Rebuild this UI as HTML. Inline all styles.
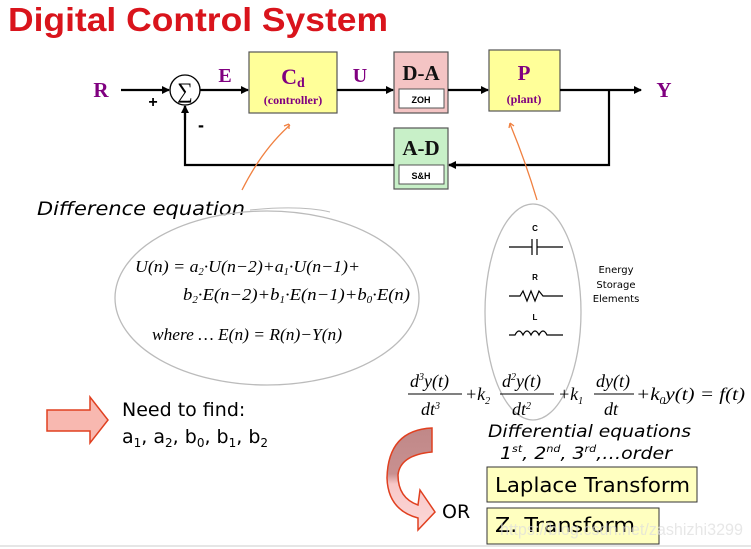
<!DOCTYPE html>
<html><head><meta charset="utf-8"><style>
html,body{margin:0;padding:0;background:#fff;}
svg{display:block;}
.c{font-family:"DejaVu Sans","Liberation Sans",sans-serif;}
.s{font-family:"Liberation Serif",serif;}
</style></head><body>
<svg width="751" height="549" viewBox="0 0 751 549" xmlns="http://www.w3.org/2000/svg">
<defs>
<marker id="ah" markerWidth="8" markerHeight="8" refX="7" refY="4" orient="auto" markerUnits="userSpaceOnUse"><path d="M0,0 L8,4 L0,8 z" fill="#000"/></marker>
</defs>
<text x="8" y="31" font-family="Liberation Sans" font-weight="bold" font-size="33" fill="#d9141c" textLength="380" lengthAdjust="spacingAndGlyphs">Digital Control System</text>

<!-- blocks -->
<rect x="249" y="52" width="88" height="61" fill="#ffff99" stroke="#555" stroke-width="1.2"/>
<text x="293" y="84" text-anchor="middle" class="s" font-weight="bold" font-size="22" fill="#800080">C<tspan font-size="14" dy="3">d</tspan></text>
<text x="293" y="104" text-anchor="middle" class="s" font-weight="bold" font-size="12" fill="#800080">(controller)</text>

<rect x="394" y="52" width="54" height="61" fill="#f4c4c4" stroke="#555" stroke-width="1.2"/>
<text x="421" y="80" text-anchor="middle" class="s" font-weight="bold" font-size="21" fill="#111">D-A</text>
<rect x="399" y="89" width="45" height="19" fill="#fff" stroke="#555"/>
<text x="421" y="103" text-anchor="middle" font-family="Liberation Sans" font-size="9" font-weight="bold">ZOH</text>

<rect x="489" y="50" width="71" height="61" fill="#ffff99" stroke="#555" stroke-width="1.2"/>
<text x="524" y="80" text-anchor="middle" class="s" font-weight="bold" font-size="21" fill="#800080">P</text>
<text x="524" y="103" text-anchor="middle" class="s" font-weight="bold" font-size="12" fill="#800080">(plant)</text>

<rect x="394" y="128" width="54" height="61" fill="#c8f0c8" stroke="#555" stroke-width="1.2"/>
<text x="421" y="155" text-anchor="middle" class="s" font-weight="bold" font-size="21" fill="#111">A-D</text>
<rect x="399" y="165" width="45" height="19" fill="#fff" stroke="#555"/>
<text x="421" y="179" text-anchor="middle" font-family="Liberation Sans" font-size="9" font-weight="bold">S&amp;H</text>

<!-- summer -->
<circle cx="185" cy="90" r="15" fill="#fff" stroke="#000" stroke-width="1.3"/>
<text x="185" y="98" text-anchor="middle" class="s" font-size="22">∑</text>

<!-- lines -->
<g stroke="#000" stroke-width="2.2" fill="none">
<line x1="121" y1="90" x2="169" y2="90" marker-end="url(#ah)"/>
<line x1="200" y1="90" x2="248" y2="90" marker-end="url(#ah)"/>
<line x1="337" y1="90" x2="393" y2="90" marker-end="url(#ah)"/>
<line x1="448" y1="90" x2="488" y2="90" marker-end="url(#ah)"/>
<line x1="560" y1="90" x2="641" y2="90" marker-end="url(#ah)"/>
<polyline points="609,90 609,165 449,165"/>
<line x1="470" y1="165" x2="449" y2="165" marker-end="url(#ah)"/>
<polyline points="394,165 185,165 185,106"/>
<line x1="185" y1="120" x2="185" y2="106" marker-end="url(#ah)"/>
</g>
<text x="101" y="97" class="s" font-weight="bold" font-size="21" fill="#800080" text-anchor="middle">R</text>
<text x="225" y="82" class="s" font-weight="bold" font-size="20" fill="#800080" text-anchor="middle">E</text>
<text x="360" y="82" class="s" font-weight="bold" font-size="20" fill="#800080" text-anchor="middle">U</text>
<text x="664" y="97" class="s" font-weight="bold" font-size="21" fill="#800080" text-anchor="middle">Y</text>
<text x="153" y="107" font-family="Liberation Sans" font-weight="bold" font-size="16" text-anchor="middle">+</text>
<text x="201" y="131" font-family="Liberation Sans" font-weight="bold" font-size="18" text-anchor="middle">-</text>

<!-- orange curves -->
<path d="M242,190 Q262,150 290,125" stroke="#f08040" stroke-width="1.3" fill="none"/>
<path d="M289,124 l-5,2 M289,124 l0,5" stroke="#f08040" stroke-width="1.3"/>
<path d="M537,200 Q525,160 510,124" stroke="#f08040" stroke-width="1.3" fill="none"/>
<path d="M510,123 l-1,5 M510,123 l4,3" stroke="#f08040" stroke-width="1.3"/>

<!-- difference eq -->
<text x="37" y="215" class="c" font-style="italic" font-size="19" textLength="208" lengthAdjust="spacingAndGlyphs">Difference equation</text>
<path d="M250,210 Q300,205 330,212" stroke="#bbb" fill="none"/>
<ellipse cx="267" cy="298" rx="152" ry="87" fill="none" stroke="#bbb" stroke-width="1.3"/>
<g class="s" font-style="italic" font-size="17">
<text x="135" y="272" textLength="225" lengthAdjust="spacingAndGlyphs">U(n) = a<tspan font-size="10" dy="3">2</tspan><tspan dy="-3">·U(n−2)+a</tspan><tspan font-size="10" dy="3">1</tspan><tspan dy="-3">·U(n−1)+</tspan></text>
<text x="183" y="300" textLength="227" lengthAdjust="spacingAndGlyphs">b<tspan font-size="10" dy="3">2</tspan><tspan dy="-3">·E(n−2)+b</tspan><tspan font-size="10" dy="3">1</tspan><tspan dy="-3">·E(n−1)+b</tspan><tspan font-size="10" dy="3">0</tspan><tspan dy="-3">·E(n)</tspan></text>
<text x="152" y="340" textLength="190" lengthAdjust="spacingAndGlyphs">where … E(n) = R(n)−Y(n)</text>
</g>

<!-- energy storage -->
<ellipse cx="533" cy="312" rx="48" ry="108" fill="none" stroke="#bbb" stroke-width="1.3"/>
<g stroke="#000" stroke-width="1.2" fill="none">
<line x1="509" y1="247" x2="532" y2="247"/><line x1="537" y1="247" x2="563" y2="247"/>
<line x1="532" y1="239" x2="532" y2="255"/><line x1="537" y1="239" x2="537" y2="255"/>
<polyline points="509,296 520,296 523,291 527,301 531,291 535,301 539,291 543,296 563,296"/>
<path d="M509,335 L515,335 Q519,327 523,335 Q527,327 531,335 Q535,327 539,335 Q543,327 547,335 L563,335"/>
</g>
<g font-family="Liberation Sans" font-size="8" font-weight="bold" text-anchor="middle">
<text x="535" y="231">C</text><text x="535" y="280">R</text><text x="535" y="320">L</text></g>
<g class="c" font-size="10" text-anchor="middle">
<text x="616" y="273">Energy</text><text x="616" y="288">Storage</text><text x="616" y="302">Elements</text></g>

<!-- differential eq -->
<g class="s" font-style="italic" font-size="18">
<text x="410" y="387">d<tspan font-size="10" dy="-7">3</tspan><tspan dy="7">y(t)</tspan></text>
<line x1="408" y1="394" x2="462" y2="394" stroke="#000"/>
<text x="421" y="415">dt<tspan font-size="10" dy="-6">3</tspan></text>
<text x="465" y="400">+k<tspan font-size="10" dy="4">2</tspan></text>
<text x="502" y="387">d<tspan font-size="10" dy="-7">2</tspan><tspan dy="7">y(t)</tspan></text>
<line x1="500" y1="394" x2="554" y2="394" stroke="#000"/>
<text x="512" y="415">dt<tspan font-size="10" dy="-6">2</tspan></text>
<text x="558" y="400">+k<tspan font-size="10" dy="4">1</tspan></text>
<text x="596" y="387">dy(t)</text>
<line x1="594" y1="394" x2="634" y2="394" stroke="#000"/>
<text x="604" y="415">dt</text>
<text x="636" y="400" textLength="109" lengthAdjust="spacingAndGlyphs">+k<tspan font-size="10" dy="4">0</tspan><tspan dy="-4">y(t) = f(t)</tspan></text>
</g>
<text x="488" y="437" class="c" font-style="italic" font-size="17" textLength="203" lengthAdjust="spacingAndGlyphs">Differential equations</text>
<text x="500" y="459" class="c" font-style="italic" font-size="17" textLength="172" lengthAdjust="spacingAndGlyphs">1<tspan font-size="10" dy="-7">st</tspan><tspan dy="7">, 2</tspan><tspan font-size="10" dy="-7">nd</tspan><tspan dy="7">, 3</tspan><tspan font-size="10" dy="-7">rd</tspan><tspan dy="7">,…order</tspan></text>

<rect x="487" y="467" width="210" height="35" fill="#ffffc0" stroke="#333"/>
<text x="495" y="492" class="c" font-size="20" textLength="195" lengthAdjust="spacingAndGlyphs">Laplace Transform</text>
<rect x="487" y="508" width="172" height="36" fill="#ffffc0" stroke="#333"/>
<text x="495" y="532" class="c" font-size="20" textLength="140" lengthAdjust="spacingAndGlyphs">Z. Transform</text>
<text x="442" y="518" class="c" font-size="19">OR</text>

<!-- curved arrow -->
<defs><linearGradient id="g" x1="0" y1="0" x2="0" y2="1"><stop offset="0" stop-color="#c08888"/><stop offset="0.45" stop-color="#c89090"/><stop offset="0.55" stop-color="#f8c8c8"/><stop offset="1" stop-color="#fcd8d8"/></linearGradient></defs>
<path d="M432,428 L432,452 Q400,455 398,475 Q398,498 418,505 L420,490 L435,512 L418,530 L418,518 Q388,510 387,478 Q388,430 432,428 z" fill="url(#g)" stroke="#e04020" stroke-width="1.5"/>

<!-- straight arrow -->
<path d="M47,410 L90,410 L90,397 L108,420 L90,443 L90,431 L47,431 z" fill="#f8b8b0" stroke="#e04020" stroke-width="1.5"/>
<text x="122" y="416" class="c" font-size="19">Need to find:</text>
<text x="122" y="443" class="c" font-size="19">a<tspan font-size="12" dy="4">1</tspan><tspan dy="-4">, a</tspan><tspan font-size="12" dy="4">2</tspan><tspan dy="-4">, b</tspan><tspan font-size="12" dy="4">0</tspan><tspan dy="-4">, b</tspan><tspan font-size="12" dy="4">1</tspan><tspan dy="-4">, b</tspan><tspan font-size="12" dy="4">2</tspan></text>

<line x1="0" y1="546" x2="751" y2="546" stroke="#ccc"/>
<text x="500" y="535" font-family="Liberation Sans" font-size="17" fill="#ddd" fill-opacity="0.7" textLength="243" lengthAdjust="spacingAndGlyphs">https://blog.csdn.net/zashizhi3299</text>
</svg>
</body></html>
